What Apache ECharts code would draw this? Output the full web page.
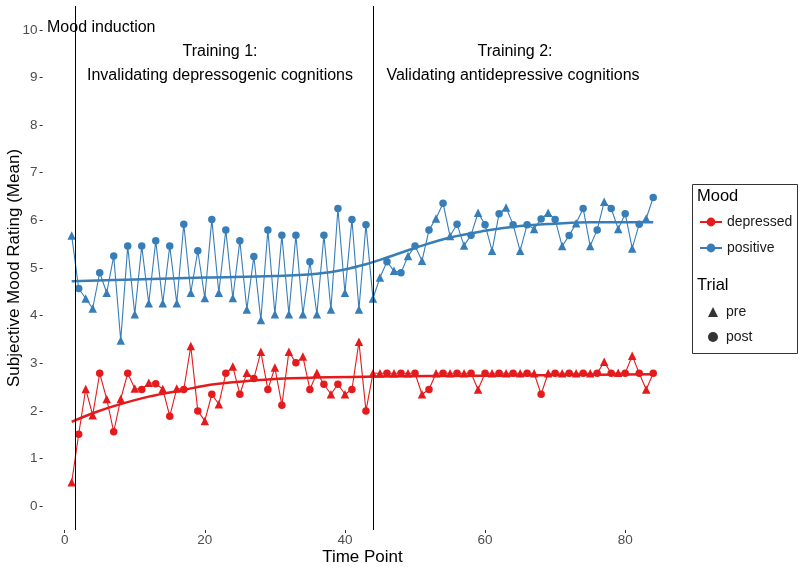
<!DOCTYPE html>
<html>
<head>
<meta charset="utf-8">
<script src="https://cdn.jsdelivr.net/npm/echarts@6/dist/echarts.min.js"></script>
<style>
  html, body { margin: 0; padding: 0; background: #fff; }
  #chart { width: 800px; height: 571px; }
</style>
</head>
<body>
<div id="chart"></div>
<script>
// time points 1..84
var timePoints = [1,2,3,4,5,6,7,8,9,10,11,12,13,14,15,16,17,18,19,20,
  21,22,23,24,25,26,27,28,29,30,31,32,33,34,35,36,37,38,39,40,
  41,42,43,44,45,46,47,48,49,50,51,52,53,54,55,56,57,58,59,60,
  61,62,63,64,65,66,67,68,69,70,71,72,73,74,75,76,77,78,79,80,
  81,82,83,84];

// 1 = pre (triangle), 0 = post (circle)
var trialPre = [1,0,1,1,0,1,0,1,0,1, 0,1,0,1,0,1,0,1,0,1,
  0,1,0,1,0,1,0,1,0,1, 0,1,0,1,0,1,0,1,0,1,
  0,1,0,1,1,0,1,0,1,0, 1,0,1,0,1,0,1,0,1,0,
  1,0,1,0,1,0,1,0,1,0, 1,0,1,0,1,0,1,0,1,0,
  1,0,1,0];

var depressed = [0.50,1.51,2.46,1.91,2.79,2.25,1.56,2.25,2.79,2.47,
  2.45,2.59,2.57,2.46,1.89,2.47,2.45,3.36,2.00,1.79,
  2.35,2.14,2.79,2.93,2.35,2.80,2.68,3.24,2.45,2.91,
  2.12,3.24,3.01,3.14,2.45,2.80,2.56,2.35,2.56,2.35,
  2.45,3.45,2.00,2.79,2.79,2.79,2.79,2.79,2.79,2.79,
  2.35,2.45,2.79,2.79,2.79,2.79,2.79,2.79,2.45,2.79,
  2.79,2.79,2.79,2.79,2.79,2.79,2.79,2.35,2.79,2.79,
  2.79,2.79,2.79,2.79,2.79,2.79,3.03,2.79,2.80,2.79,
  3.16,2.79,2.45,2.79];

var positive = [5.68,4.57,4.36,4.15,4.90,4.48,5.25,3.48,5.46,4.03,
  5.46,4.26,5.57,4.26,5.46,4.26,5.92,4.48,5.36,4.37,
  6.02,4.48,5.80,4.37,5.57,4.13,5.24,3.91,5.80,4.03,
  5.69,4.03,5.69,4.03,5.13,4.03,5.69,4.13,6.25,4.48,
  6.02,4.13,5.91,4.36,4.80,5.13,4.94,4.90,5.25,5.46,
  5.15,5.80,6.04,6.36,5.67,5.92,5.47,5.69,6.16,5.91,
  5.36,6.14,6.27,5.91,5.36,5.91,5.82,6.03,6.16,6.02,
  5.46,5.68,5.94,6.25,5.46,5.80,6.39,6.25,5.82,6.14,
  5.41,5.92,6.04,6.48];

// loess fit
var fitDepT = [1,4,7,12,17,20,24,29,36,45,60,84];
var fitDepV = [1.77,1.95,2.10,2.30,2.44,2.53,2.60,2.66,2.70,2.72,2.74,2.77];
var fitPosT = [1,10,20,30,36,40,43,46,50,55,60,65,70,75,84];
var fitPosV = [4.72,4.76,4.80,4.83,4.88,4.97,5.08,5.22,5.42,5.64,5.78,5.88,5.93,5.96,5.96];

var phaseBreaks = [1.5, 44];
var xTicks = [0, 20, 40, 60, 80];
var yTicks = [0,1,2,3,4,5,6,7,8,9,10];

var RED = '#E41A1C', BLUE = '#377EB8';
var FONT = 'Liberation Sans, Arial, sans-serif';

function points(vals) {
  return vals.map(function (v, i) {
    return {
      value: [timePoints[i], v],
      symbol: trialPre[i] ? 'triangle' : 'circle',
      symbolSize: trialPre[i] ? 8.5 : 7.5
    };
  });
}
function pairs(ts, vs) {
  return ts.map(function (t, i) { return [t, vs[i]]; });
}

var myChart = echarts.init(document.getElementById('chart'), null, { renderer: 'canvas' });

var option = {
  animation: false,
  textStyle: { fontFamily: FONT },
  grid: { left: 42.6, right: 117.7, top: 6, bottom: 41, containLabel: false, outerBoundsMode: 'none' },
  xAxis: {
    type: 'value', min: -3.15, max: 88.15,
    name: 'Time Point', nameLocation: 'middle', nameGap: 19, nameMoveOverlap: false,
    nameTextStyle: { fontSize: 17, color: '#000', fontFamily: FONT },
    axisLine: { show: false, onZero: false },
    splitLine: { show: false },
    axisTick: { show: true, length: 3, customValues: xTicks, lineStyle: { color: '#333' } },
    axisLabel: { customValues: xTicks, color: '#4d4d4d', fontSize: 13.5, margin: 3, fontFamily: FONT }
  },
  yAxis: {
    type: 'value', min: -0.5, max: 10.5,
    name: 'Subjective Mood Rating (Mean)', nameLocation: 'middle', nameGap: 20, nameMoveOverlap: false,
    nameTextStyle: { fontSize: 17, color: '#000', fontFamily: FONT },
    axisLine: { show: false, onZero: false },
    splitLine: { show: false },
    axisTick: { show: true, length: 3, customValues: yTicks, lineStyle: { color: '#333' } },
    axisLabel: { customValues: yTicks, color: '#4d4d4d', fontSize: 13.5, margin: 5, fontFamily: FONT }
  },
  legend: [
    {
      data: ['depressed', 'positive'], orient: 'vertical',
      left: 694, top: 210, itemGap: 12, itemWidth: 22, itemHeight: 11,
      textStyle: { fontSize: 14, color: '#1a1a1a', fontFamily: FONT }, selectedMode: false
    },
    {
      data: ['pre', 'post'], orient: 'vertical',
      left: 703, top: 300, itemGap: 11, itemWidth: 10, itemHeight: 10,
      textStyle: { fontSize: 14, color: '#1a1a1a', fontFamily: FONT, padding: [0, 0, 0, 3] }, selectedMode: false
    }
  ],
  graphic: [
    { type: 'rect', left: 690, top: 182, shape: { width: 105, height: 169 },
      style: { fill: 'none', stroke: '#333', lineWidth: 1 } },
    { type: 'text', left: 697, top: 188, style: { text: 'Mood', font: '16.5px ' + FONT, fill: '#000' } },
    { type: 'text', left: 697, top: 277, style: { text: 'Trial', font: '16.5px ' + FONT, fill: '#000' } },
    { type: 'text', x: 47, y: 28, style: { text: 'Mood induction', font: '16px ' + FONT, fill: '#000', align: 'left', verticalAlign: 'middle' } },
    { type: 'text', x: 220, y: 52, style: { text: 'Training 1:', font: '16px ' + FONT, fill: '#000', align: 'center', verticalAlign: 'middle' } },
    { type: 'text', x: 220, y: 76, style: { text: 'Invalidating depressogenic cognitions', font: '16px ' + FONT, fill: '#000', align: 'center', verticalAlign: 'middle' } },
    { type: 'text', x: 515, y: 52, style: { text: 'Training 2:', font: '16px ' + FONT, fill: '#000', align: 'center', verticalAlign: 'middle' } },
    { type: 'text', x: 513, y: 76, style: { text: 'Validating antidepressive cognitions', font: '16px ' + FONT, fill: '#000', align: 'center', verticalAlign: 'middle' } }
  ],
  series: [
    {
      name: 'depressed', type: 'line', data: points(depressed),
      symbol: 'circle', symbolSize: 8, color: RED,
      lineStyle: { width: 1.1, color: RED }, itemStyle: { color: RED }, z: 3,
      markLine: {
        silent: true, symbol: 'none', label: { show: false },
        lineStyle: { color: '#000', width: 1, type: 'solid' },
        data: phaseBreaks.map(function (b) { return { xAxis: b }; })
      }
    },
    {
      name: 'positive', type: 'line', data: points(positive),
      symbol: 'circle', symbolSize: 8, color: BLUE,
      lineStyle: { width: 1.1, color: BLUE }, itemStyle: { color: BLUE }, z: 3
    },
    {
      name: 'depressed fit', type: 'line', data: pairs(fitDepT, fitDepV),
      smooth: 0.4, showSymbol: false, lineStyle: { width: 2.5, color: RED }, z: 4
    },
    {
      name: 'positive fit', type: 'line', data: pairs(fitPosT, fitPosV),
      smooth: 0.4, showSymbol: false, lineStyle: { width: 2.5, color: BLUE }, z: 4
    },
    { name: 'pre', type: 'scatter', symbol: 'triangle', symbolSize: 9, itemStyle: { color: '#000' }, data: [] },
    { name: 'post', type: 'scatter', symbol: 'circle', symbolSize: 8, itemStyle: { color: '#000' }, data: [] }
  ]
};

myChart.setOption(option);
</script>
</body>
</html>
